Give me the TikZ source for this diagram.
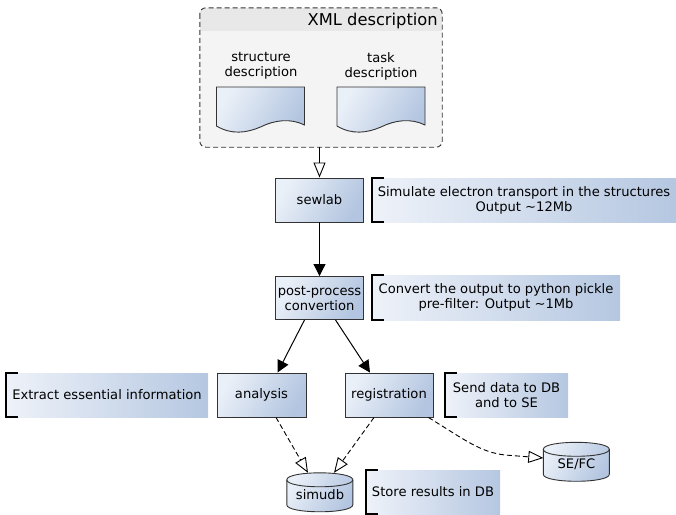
\documentclass[tikz,border=0pt]{standalone}
\usepackage{fontspec}
\setmainfont{DejaVu Sans}
\usetikzlibrary{arrows.meta}
\definecolor{gl}{HTML}{EAF0F8}
\definecolor{gd}{HTML}{B3C5E0}
\definecolor{al}{HTML}{EEF2F9}
\definecolor{ad}{HTML}{B5C7E1}
\definecolor{contc}{HTML}{F4F4F4}
\definecolor{hdrc}{HTML}{E8E8E8}
\definecolor{linec}{HTML}{333333}
\begin{document}
\begin{tikzpicture}[x=1pt,y=-1pt,
  font=\fontsize{13.1}{15}\selectfont,
  proc/.style={draw=linec, line width=0.9pt, left color=gl, right color=gd, shading angle=60, align=center, inner sep=0pt},
  anno/.style={left color=al, right color=ad, draw=none, align=center, inner sep=0pt},
  bracket/.style={line width=2.2pt, line cap=butt, line join=miter},
  solidarr/.style={line width=1pt, -{Triangle[length=12pt,width=12pt]}},
  openarr/.style={line width=0.9pt, -{Triangle[open,length=15pt,width=12pt,fill=white]}},
  dasharr/.style={openarr, dash pattern=on 5pt off 3pt},
  docfill/.style={draw=linec, line width=0.9pt, left color=gl, right color=gd, shading angle=60},
  docpic/.pic={
    \shade[docfill] (0,0) -- (88,0) -- (88,38) .. controls (74,31) and (58,33) .. (44,40) .. controls (30,46) and (15,48) .. (0,39) -- cycle;
  },
  cylpic/.pic={
    \shade[docfill] (0,7) -- (0,32) .. controls (0,41.3) and (66,41.3) .. (66,32) -- (66,7) .. controls (66,-2.3) and (0,-2.3) .. (0,7) -- cycle;
    \draw[draw=linec, line width=0.9pt] (0,7) .. controls (0,16.3) and (66,16.3) .. (66,7);
  }
]
\useasboundingbox (0,0) rectangle (676,514);

% XML container
\node[fill=contc, minimum width=242pt, minimum height=139pt, inner sep=0pt, rounded corners=6pt] (xml) at (321,77.5) {};
\begin{scope}
  \clip[rounded corners=6pt] (xml.north west) rectangle (xml.south east);
  \fill[hdrc] (xml.north west) rectangle ([yshift=-23pt]xml.north east);
\end{scope}
\draw[linec, line width=0.9pt, dash pattern=on 5pt off 3pt, rounded corners=6pt] (xml.north west) rectangle (xml.south east);
\node[anchor=base east, font=\fontsize{16.3}{19}\selectfont, inner sep=0pt] (xmlt) at (438,25) {XML description};

% documents
\node[align=center, inner sep=0pt] (sdoct) at (261,66) {structure\\description};
\node[align=center, inner sep=0pt] (tdoct) at (381,66) {task\\description};
\pic at (216.5,87) {docpic};
\pic at (337,87) {docpic};

% process boxes
\node[proc, minimum width=88pt, minimum height=44pt] (sewlab) at (319.5,200) {sewlab};
\node[proc, minimum width=88pt, minimum height=43pt] (post) at (319.5,298) {post-process\\convertion};
\node[proc, minimum width=89pt, minimum height=44pt] (ana) at (261.5,395) {analysis};
\node[proc, minimum width=88pt, minimum height=44pt] (reg) at (389,395) {registration};

% annotations
\node[anno, minimum width=304pt, minimum height=44pt] (asew) at (524,200) {Simulate electron transport in the structures\\Output \textasciitilde12Mb};
\node[anno, minimum width=248pt, minimum height=45pt] (apost) at (496,297.5) {Convert the output to python pickle\\pre-filter: Output \textasciitilde1Mb};
\node[anno, minimum width=202pt, minimum height=44pt] (aana) at (107,395) {Extract essential information};
\node[anno, minimum width=123pt, minimum height=44pt] (areg) at (506.5,395) {Send data to DB\\and to SE};
\node[anno, minimum width=134pt, minimum height=44pt] (adb) at (433,492) {Store results in DB};

\foreach \a in {asew,apost,aana,areg,adb}{
  \draw[bracket] ([xshift=12pt]\a.north west) -- (\a.north west) -- (\a.south west) -- ([xshift=12pt]\a.south west);
}

% cylinders
\node[minimum width=66pt, minimum height=39pt, inner sep=0pt] (simudb) at (320,492.5) {};
\pic at (simudb.north west) {cylpic};
\node[inner sep=0pt] (simudbt) at (320,495) {simudb};
\node[minimum width=66pt, minimum height=39pt, inner sep=0pt] (sefc) at (576.5,462) {};
\pic at (sefc.north west) {cylpic};
\node[inner sep=0pt] (sefct) at (576.5,464.5) {SE/FC};

% connectors
\draw[openarr] (sewlab.north |- xml.south) -- (sewlab.north);
\draw[solidarr] (sewlab.south) -- (post.north);
\draw[solidarr] ([xshift=-15pt]post.south) -- ([xshift=16pt]ana.north);
\draw[solidarr] ([xshift=16pt]post.south) -- ([xshift=-19pt]reg.north);
\draw[dasharr] ([xshift=14.5pt]ana.south) -- ([xshift=-12pt]simudb.north);
\draw[dasharr] ([xshift=-15pt]reg.south) -- ([xshift=14pt]simudb.north);
\coordinate (regse) at ([xshift=-5pt]reg.south east);
\draw[dasharr] (regse) .. controls (465,440) and (480,452) .. (505,455) -- ([yshift=4pt]sefc.west);
\end{tikzpicture}
\end{document}
